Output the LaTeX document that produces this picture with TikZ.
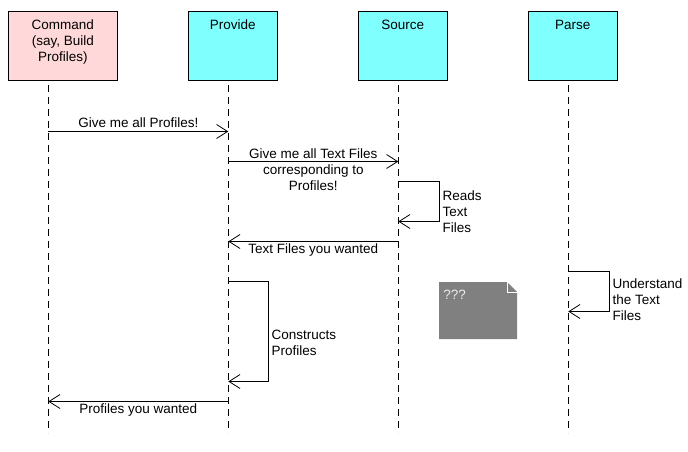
\documentclass[tikz,border=0pt]{standalone}
\usepackage{fontspec}
\setmainfont{Liberation Sans}
\usetikzlibrary{arrows.meta}
\definecolor{callerpink}{RGB}{255,217,217}
\definecolor{partcyan}{RGB}{128,255,255}
\definecolor{notegray}{RGB}{128,128,128}

\begin{document}
\begin{tikzpicture}[
						x=1pt,
						y=-1pt,
						font=\fontsize{13.5}{16}\selectfont,
						line width=0.8pt,
						actor/.style={draw=black, fill=partcyan, minimum width=89pt, minimum height=69pt, inner sep=0pt},
						caller/.style={actor, fill=callerpink, minimum width=109pt},
						title/.style={anchor=base, yshift=-19pt, align=center, inner sep=0pt},
						lifeline/.style={dash pattern=on 7pt off 5pt, dash phase=7pt},
						msg/.style={-{Straight Barb[length=11pt, width=14pt]}},
						says/.style={midway, anchor=base, inner sep=0pt, align=center},
						thinks/.style={pos=0.25, anchor=base west, xshift=3pt, inner sep=0pt, align=left}
					]
					\useasboundingbox (0,0) rectangle (688,452);

					\node[caller, label={[title, yshift=-32pt]north:{Command\\(say, Build\\Profiles)}}] (cmd) at (62.8,45.5) {};
					\node[actor, label={[title]north:Provide}] (prv) at (232.8,45.5) {};
					\node[actor, label={[title]north:Source}] (src) at (402.8,45.5) {};
					\node[actor, label={[title]north:Parse}] (prs) at (572.8,45.5) {};

					\coordinate (cmdl) at (48.3,80);
					\coordinate (prvl) at (228.3,80);
					\coordinate (srcl) at (398.3,80);
					\coordinate (prsl) at (568.3,80);
					\coordinate (end) at (0,433);

					\foreach \who in {cmdl,prvl,srcl,prsl}
						\draw[lifeline] (\who) -- (\who |- end);

					\coordinate (r1) at (0,131.5);
					\coordinate (r2) at (0,161.5);
					\coordinate (r3) at (0,181.5);
					\coordinate (r3b) at (0,221.5);
					\coordinate (r4) at (0,241.5);
					\coordinate (r5) at (0,271.5);
					\coordinate (r5b) at (0,311.5);
					\coordinate (r6) at (0,281.5);
					\coordinate (r6b) at (0,381.5);
					\coordinate (r7) at (0,401.5);

					\draw[msg] (cmdl |- r1) -- (prvl |- r1)
						node[says, yshift=4pt] {Give me all Profiles!};
					\draw[msg] (prvl |- r2) -- (srcl |- r2)
						node[says, yshift=-28.5pt] {Give me all Text Files\\corresponding to\\Profiles!};
					\draw[msg] (srcl |- r3) -- ++(41,0) |- (srcl |- r3b)
						node[thinks, yshift=-31pt] {Reads\\Text\\Files};
					\draw[msg] (srcl |- r4) -- (prvl |- r4)
						node[says, yshift=-12pt] {Text Files you wanted};
					\draw[msg] (prsl |- r5) -- ++(41,0) |- (prsl |- r5b)
						node[thinks, yshift=-29pt] {Understand\\the Text\\Files};
					\draw[msg] (prvl |- r6) -- ++(40,0) |- (prvl |- r6b)
						node[thinks, yshift=-24pt] {Constructs\\Profiles};
					\draw[msg] (prvl |- r7) -- (cmdl |- r7)
						node[says, yshift=-12pt] {Profiles you wanted};

					\coordinate (memo) at (439,282);
					\fill[notegray] (memo) -- ++(68,0) -- ++(10,10) -- ++(0,47) -- ++(-78,0) -- cycle;
					\draw[white, line width=0.6pt] ([xshift=68pt]memo) -- ++(0,10) -- ++(10,0);
					\node[anchor=base west, inner sep=0pt, text=white!92!black] (memotext) at ([xshift=4pt, yshift=-17pt]memo) {???};
				\end{tikzpicture}
\end{document}
